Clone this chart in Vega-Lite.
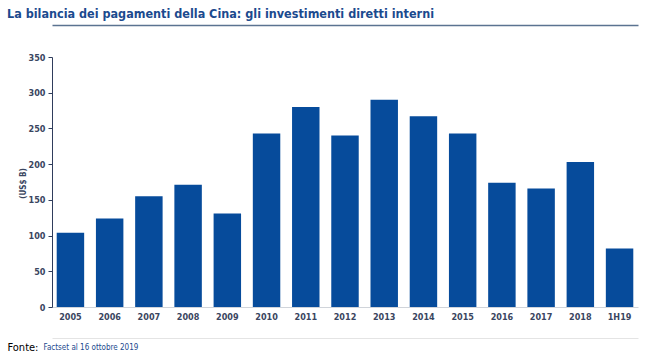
{
  "$schema": "https://vega.github.io/schema/vega-lite/v6.json",
  "autosize": "none",
  "width": 586,
  "height": 250,
  "padding": {"left": 52, "top": 57, "right": 17, "bottom": 51},
  "background": "white",
  "config": {"view": {"stroke": null}, "font": "DejaVu Sans Condensed, Liberation Sans"},
  "title": {
    "text": "La bilancia dei pagamenti della Cina: gli investimenti diretti interni",
    "anchor": "start",
    "frame": "group",
    "dx": -45,
    "offset": 5,
    "font": "DejaVu Sans Condensed, Liberation Sans",
    "fontSize": 12.5,
    "fontWeight": "bold",
    "color": "#1b4a8e"
  },
  "data": {
    "values": [
      {"period": "2005", "value": 104},
      {"period": "2006", "value": 124},
      {"period": "2007", "value": 155},
      {"period": "2008", "value": 171},
      {"period": "2009", "value": 131},
      {"period": "2010", "value": 243},
      {"period": "2011", "value": 280},
      {"period": "2012", "value": 240},
      {"period": "2013", "value": 290},
      {"period": "2014", "value": 267},
      {"period": "2015", "value": 243},
      {"period": "2016", "value": 174},
      {"period": "2017", "value": 166},
      {"period": "2018", "value": 203},
      {"period": "1H19", "value": 82}
    ]
  },
  "layer": [
    {
      "mark": {"type": "bar", "color": "#064b9b"},
      "encoding": {
        "x": {
          "field": "period", "type": "ordinal", "sort": null,
          "scale": {"paddingInner": 0.3, "paddingOuter": 0.12},
          "axis": {
            "orient": "bottom",
            "labelAngle": 0,
            "labelFont": "DejaVu Sans Condensed, Liberation Sans",
            "labelFontSize": 9,
            "labelFontWeight": "bold",
            "labelColor": "#3a4560",
            "labelPadding": 5,
            "ticks": false,
            "domainColor": "#d0d4da",
            "title": "Fonte:",
            "titleFont": "DejaVu Sans Condensed, Liberation Sans",
            "titleFontSize": 11,
            "titleFontWeight": "normal",
            "titleColor": "#000000",
            "titleAlign": "left",
            "titleBaseline": "middle",
            "titleX": -45,
            "titleY": 40
          }
        },
        "y": {
          "field": "value", "type": "quantitative",
          "scale": {"domain": [0, 350]},
          "axis": {
            "values": [0, 50, 100, 150, 200, 250, 300, 350],
            "grid": false,
            "domainColor": "#2f3d5c",
            "tickColor": "#2f3d5c",
            "tickSize": 4,
            "labelFont": "DejaVu Sans Condensed, Liberation Sans",
            "labelFontSize": 9,
            "labelFontWeight": "bold",
            "labelColor": "#3a4560",
            "labelPadding": 3,
            "title": "(US$ B)",
            "titleFont": "DejaVu Sans Condensed, Liberation Sans",
            "titleFontSize": 8,
            "titleFontWeight": "bold",
            "titleColor": "#3a4560",
            "titleAngle": -90,
            "titleAlign": "center",
            "titleBaseline": "middle",
            "titleX": -29,
            "titleY": 126
          }
        }
      }
    },
    {
      "mark": {"type": "bar", "opacity": 0},
      "encoding": {
        "x": {
          "field": "period", "type": "ordinal", "sort": null,
          "axis": {
            "orient": "top",
            "offset": 32,
            "labels": false,
            "ticks": false,
            "domainColor": "#5b7391",
            "domainWidth": 1.5,
            "title": null
          }
        }
      }
    },
    {
      "mark": {"type": "bar", "opacity": 0},
      "encoding": {
        "x": {
          "field": "period", "type": "ordinal", "sort": null,
          "axis": {
            "orient": "bottom",
            "offset": 31,
            "labels": false,
            "ticks": false,
            "domainColor": "#e4e4e4",
            "title": "Factset al 16 ottobre 2019",
            "titleFont": "DejaVu Sans Condensed, Liberation Sans",
            "titleFontSize": 8,
            "titleFontWeight": "normal",
            "titleColor": "#1b4a8e",
            "titleAlign": "left",
            "titleBaseline": "middle",
            "titleX": -9,
            "titleY": 9
          }
        }
      }
    }
  ],
  "resolve": {"axis": {"x": "independent"}}
}
